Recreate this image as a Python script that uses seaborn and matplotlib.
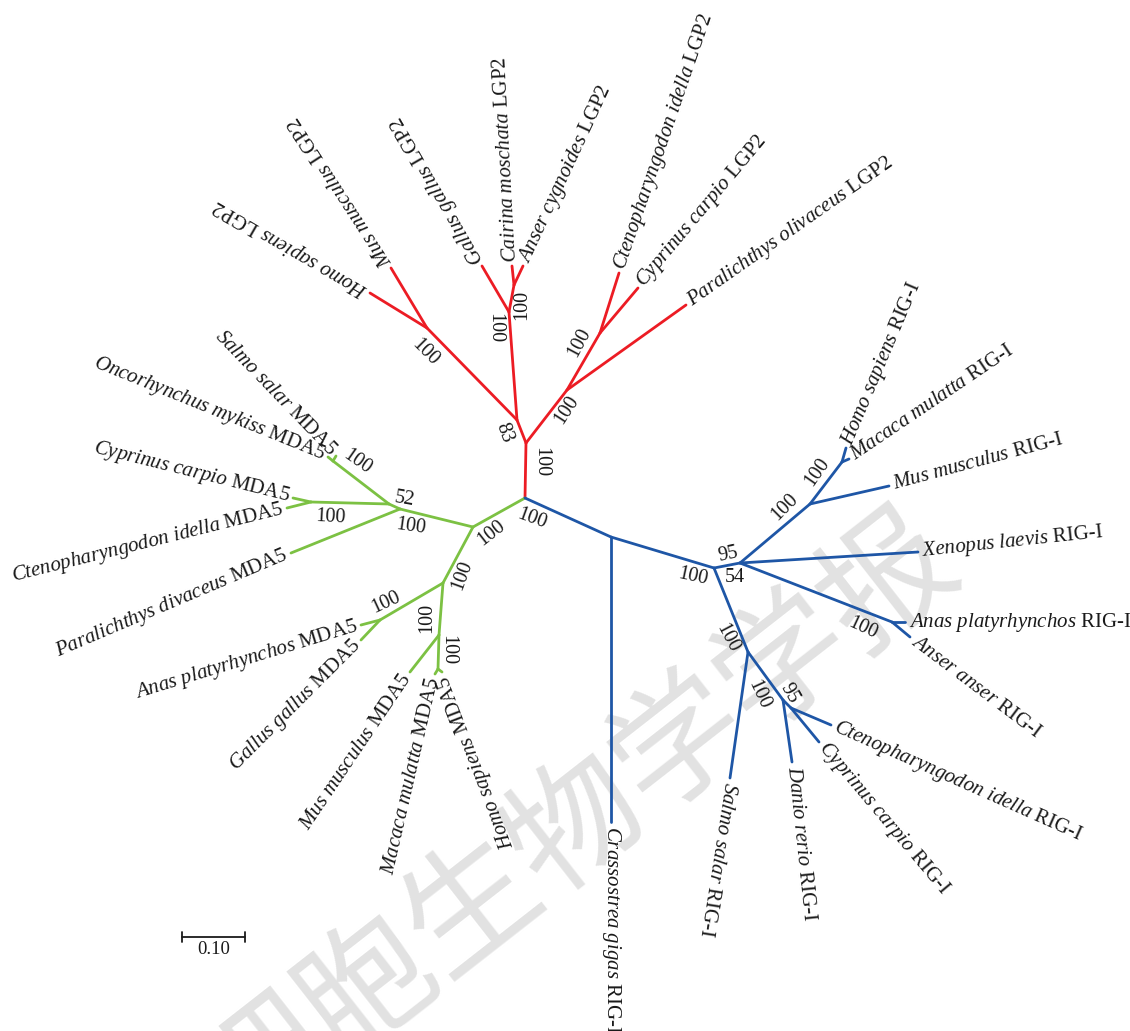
import numpy as np
import pandas as pd
import matplotlib
matplotlib.use("Agg")
import matplotlib.pyplot as plt
import seaborn as sns

sns.set_theme(style="white")
plt.rcParams['font.family'] = ['Liberation Serif', 'DejaVu Serif']
plt.rcParams['mathtext.fontset'] = 'custom'
plt.rcParams['mathtext.rm'] = 'Liberation Serif'
plt.rcParams['mathtext.it'] = 'Liberation Serif:italic'

# ---- tree nodes (position, pixel units) ----
node_name = ['n0',
             'r1', 'r2', 'r3', 'r4', 'r5', 'r6', 'r7',
             'tHsL', 'tMmL', 'tGgL', 'tCmL', 'tAcL', 'tCiL', 'tCcL', 'tPoL',
             'g1', 'g2', 'g3', 'gSO', 'gCC', 'g4', 'gAG', 'g5', 'gHM',
             'tSsM', 'tOmM', 'tCcM', 'tCiM', 'tPdM', 'tApM', 'tGgM', 'tMmM', 'tMaM', 'tHsM',
             'b1', 'b3', 'b4', 'b5', 'b6', 'b7', 'b8', 'b9', 'b10',
             'tCgR', 'tHsR', 'tMaR', 'tMmR', 'tXlR', 'tApR', 'tAaR', 'tSsR', 'tDrR', 'tCiR', 'tCcR']
node_x = [525,
          526, 517, 567, 509, 427, 514, 600,
          370, 391, 482, 512, 523, 619, 638, 686,
          473, 400, 389, 333, 311, 443, 380, 439, 438,
          336, 328, 293, 287, 291, 361, 361, 410, 435, 442,
          611, 714, 740, 748, 810, 842, 892, 783, 791,
          611, 846, 849, 889, 918, 905, 910, 730, 792, 831, 819]
node_y = [498,
          443, 420, 390, 312, 328, 285, 333,
          293, 268, 266, 266, 266, 273, 288, 305,
          527, 509, 504, 461, 502, 583, 620, 635, 669,
          456, 457, 498, 508, 553, 625, 640, 672, 674, 672,
          537, 568, 563, 652, 504, 462, 622, 700, 708,
          822, 448, 459, 486, 552, 622, 637, 778, 762, 725, 742]
node_parent = [None,
               'n0', 'r1', 'r1', 'r2', 'r2', 'r4', 'r3',
               'r5', 'r5', 'r4', 'r6', 'r6', 'r7', 'r7', 'r3',
               'n0', 'g1', 'g2', 'g3', 'g3', 'g1', 'g4', 'g4', 'g5',
               'gSO', 'gSO', 'gCC', 'gCC', 'g2', 'gAG', 'gAG', 'g5', 'gHM', 'gHM',
               'n0', 'b1', 'b3', 'b3', 'b4', 'b6', 'b4', 'b5', 'b9',
               'b1', 'b7', 'b7', 'b6', 'b4', 'b8', 'b8', 'b5', 'b9', 'b10', 'b10']

# ---- tip labels ----
tip_node = ['tHsL', 'tMmL', 'tGgL', 'tCmL', 'tAcL', 'tCiL', 'tCcL', 'tPoL',
            'tSsM', 'tOmM', 'tCcM', 'tCiM', 'tPdM', 'tApM', 'tGgM', 'tMmM', 'tMaM', 'tHsM',
            'tCgR', 'tHsR', 'tMaR', 'tMmR', 'tXlR', 'tApR', 'tAaR', 'tSsR', 'tDrR', 'tCiR', 'tCcR']
tip_species = ['Homo sapiens', 'Mus musculus', 'Gallus gallus', 'Cairina moschata', 'Anser cygnoides',
               'Ctenopharyngodon idella', 'Cyprinus carpio', 'Paralichthys olivaceus',
               'Salmo salar', 'Oncorhynchus mykiss', 'Cyprinus carpio', 'Ctenopharyngodon idella',
               'Paralichthys divaceus', 'Anas platyrhynchos', 'Gallus gallus', 'Mus musculus',
               'Macaca mulatta', 'Homo sapiens',
               'Crassostrea gigas', 'Homo sapiens', 'Macaca mulatta', 'Mus musculus', 'Xenopus laevis',
               'Anas platyrhynchos', 'Anser anser', 'Salmo salar', 'Danio rerio',
               'Ctenopharyngodon idella', 'Cyprinus carpio']
tip_gene = ['LGP2'] * 8 + ['MDA5'] * 10 + ['RIG-I'] * 11
tip_angle = [150, 123, 120, 93, 65, 71, 50, 35,
             -46, -22, -14, 14, 23, 17, 45, 56, 77, 111,
             -90, 67, 34, 15, 6, 0, -37, -99, -84, -24, -50]
tip_side = ['left'] * 8 + ['right'] * 10 + ['left'] * 11

# ---- bootstrap values ----
boot_text = ['100', '83', '100', '100', '100', '100', '100',
             '100', '52', '100', '100', '100', '100', '100', '100', '100',
             '100', '100', '95', '54', '100', '100', '100', '100', '100', '95']
boot_x = [541, 504, 495, 522, 425, 567, 579,
          357, 404, 330, 411, 491, 462, 386, 427, 448,
          532, 693, 728, 735, 785, 817, 863, 727, 759, 789]
boot_y = [462, 433, 328, 305, 352, 410, 343,
          462, 499, 517, 527, 533, 575, 603, 618, 650,
          519, 577, 555, 578, 507, 472, 628, 638, 695, 693]
boot_rot = [-90, -70, -90, 90, -45, 57, 62,
            -35, -10, -3, -8, 38, 70, 25, 90, -90,
            -20, -12, 12, 0, 45, 55, -25, -62, -65, -60]

scale_x = [182, 245]
scale_y = 937
scale_label = '0.10'

clade_colors = {'LGP2': '#ec1c24', 'MDA5': '#7cc143', 'RIG-I': '#1e56a6'}

nodes = pd.DataFrame({'name': node_name, 'x': node_x, 'y': node_y, 'parent': node_parent})
nodes = nodes.set_index('name')


def clade_of(name):
    if name[0] in 'rb' and name != 'n0':
        return 'LGP2' if name[0] == 'r' else 'RIG-I'
    if name[0] == 'g':
        return 'MDA5'
    return {'L': 'LGP2', 'M': 'MDA5', 'R': 'RIG-I'}[name[-1]]


rows = []
for name, nd in nodes.iterrows():
    if nd['parent'] is None:
        continue
    p = nodes.loc[nd['parent']]
    c = clade_of(name)
    rows.append({'edge': name, 'x': p['x'], 'y': p['y'], 'clade': c})
    rows.append({'edge': name, 'x': nd['x'], 'y': nd['y'], 'clade': c})
edges = pd.DataFrame(rows)

fig = plt.figure(figsize=(11.3, 10.31), dpi=100)
ax = fig.add_axes([0, 0, 1, 1])

# watermark
ax.text(578, 826, '细胞生物学学报', fontsize=95, color='#e2e2e2', rotation=38,
        ha='center', va='center', family=['Noto Sans CJK SC', 'DejaVu Sans'], zorder=0)

sns.lineplot(data=edges, x='x', y='y', units='edge', estimator=None, sort=False,
             hue='clade', palette=clade_colors, legend=False, linewidth=2.0, ax=ax, zorder=2)

txt_color = '#1a1a1a'
gap = 4
for nd_name, sp, gene, ang, side in zip(tip_node, tip_species, tip_gene, tip_angle, tip_side):
    x0, y0 = nodes.loc[nd_name, 'x'], nodes.loc[nd_name, 'y']
    t = np.deg2rad(ang)
    sgn = 1 if side == 'left' else -1
    lx = x0 + sgn * gap * np.cos(t)
    ly = y0 - sgn * gap * np.sin(t)
    label = '$\\mathit{' + sp.replace(' ', '\\ ') + '}$ ' + gene
    ax.text(lx, ly, label, fontsize=15, rotation=ang, rotation_mode='anchor',
            ha=side, va='center', color=txt_color, zorder=3)

for bx, by, bt, br in zip(boot_x, boot_y, boot_text, boot_rot):
    ax.text(bx, by, bt, fontsize=14.5, rotation=br, rotation_mode='anchor',
            ha='center', va='center', color=txt_color, zorder=3)

# scale bar
ax.plot(scale_x, [scale_y, scale_y], color=txt_color, lw=1.3)
for sx in scale_x:
    ax.plot([sx, sx], [scale_y - 5, scale_y + 5], color=txt_color, lw=1.3)
ax.text(np.mean(scale_x), scale_y + 12, scale_label, fontsize=13.5, ha='center', va='center',
        color=txt_color)

ax.set_xlim(0, 1130)
ax.set_ylim(1031, 0)
ax.axis('off')
fig.savefig('out.png', dpi=100)
